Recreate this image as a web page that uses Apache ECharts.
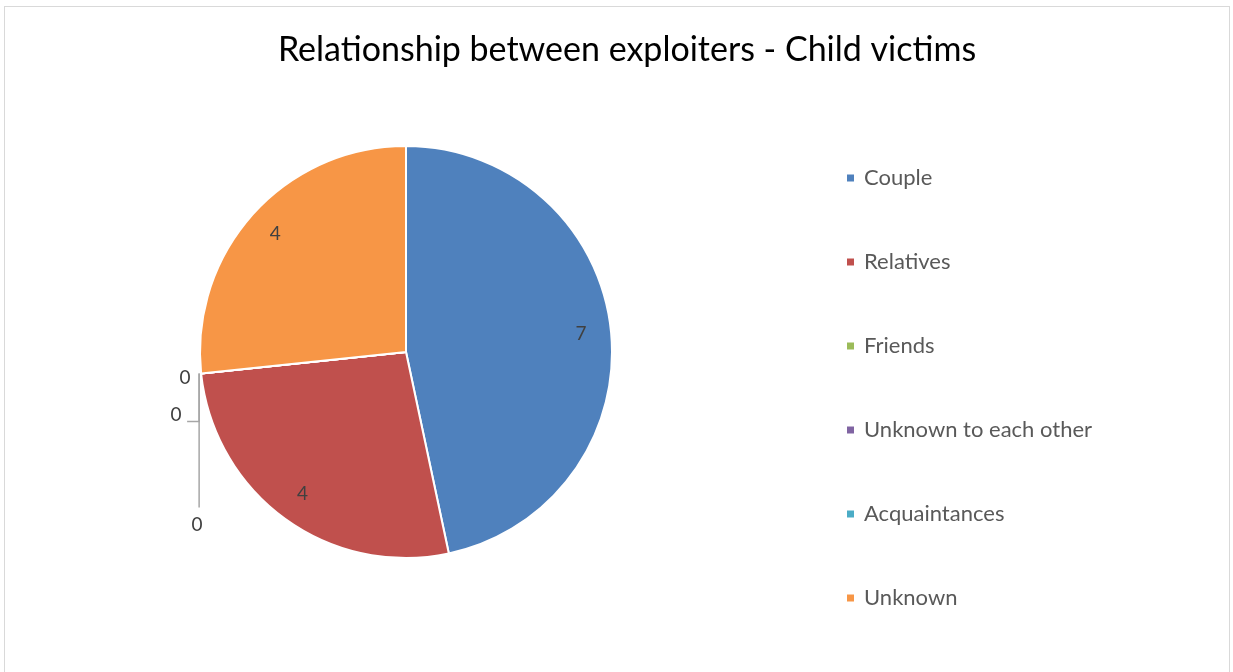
<!DOCTYPE html>
<html>
<head>
<meta charset="utf-8">
<title>Relationship between exploiters - Child victims</title>
<script src="https://cdn.jsdelivr.net/npm/echarts@6/dist/echarts.min.js"></script>
<style>
  html, body { margin: 0; padding: 0; background: #fff; }
  .frame {
    position: absolute; left: 4px; top: 6px; width: 1226px; height: 680px;
    border: 1px solid #d9d9d9; box-sizing: border-box;
  }
  #chart { position: absolute; left: 0; top: 0; width: 1233px; height: 672px; }
</style>
</head>
<body>
<div class="frame"></div>
<div id="chart"></div>
<script>
// chart data
const categories = ['Couple', 'Relatives', 'Friends', 'Unknown to each other', 'Acquaintances', 'Unknown'];
const values = [7, 4, 0, 0, 0, 4];
const colors = ['#4f81bd', '#c0504d', '#9bbb59', '#8064a2', '#4bacc6', '#f79646'];

const pieCenter = [406, 352];
const pieRadius = 206;

const chart = echarts.init(document.getElementById('chart'));

const seriesData = categories.map((name, i) => {
  const item = { name: name, value: values[i] };
  if (values[i] === 0) {
    item.label = { position: 'outside' };
  }
  return item;
});

// where the zero labels sit, relative to the slice edge point
const zeroLabels = {
  2: { lx: -16, ly: 4, line: null },
  3: { lx: -25, ly: 41, line: [[-2, 0], [-2, 48], [-14, 48]] },
  4: { lx: -4, ly: 151, line: [[-2, 0], [-2, 134]] }
};

const option = {
  animation: false,
  color: colors,
  title: {
    text: 'Relationship between exploiters - Child victims',
    left: 622,
    top: 28,
    textAlign: 'center',
    textStyle: { fontFamily: 'Lato', fontSize: 34, fontWeight: 'normal', color: '#000' }
  },
  legend: {
    orient: 'vertical',
    left: 840,
    top: 162,
    itemWidth: 9,
    itemHeight: 9,
    itemGap: 62,
    icon: 'rect',
    data: categories,
    textStyle: { fontFamily: 'Lato', fontSize: 22, color: '#595959', padding: [0, 0, 0, 4] }
  },
  series: [{
    type: 'pie',
    center: pieCenter,
    radius: pieRadius,
    startAngle: 90,
    clockwise: true,
    avoidLabelOverlap: false,
    itemStyle: { borderColor: '#fff', borderWidth: 2 },
    label: {
      show: true,
      position: 'inside',
      formatter: '{c}',
      fontFamily: 'Lato',
      fontSize: 19,
      color: '#404040'
    },
    labelLine: {
      show: true,
      length: 10,
      length2: 10,
      lineStyle: { color: '#a6a6a6', width: 1.5 }
    },
    labelLayout: (params) => {
      const i = params.dataIndex;
      const r = params.labelRect;
      if (values[i] !== 0) {
        // push the inside labels out toward the rim
        const cx = r.x + r.width / 2;
        const cy = r.y + r.height / 2;
        const k = 0.66;
        return { dx: (cx - pieCenter[0]) * k, dy: (cy - pieCenter[1]) * k };
      }
      const z = zeroLabels[i];
      const p0 = params.labelLinePoints ? params.labelLinePoints[0] : [r.x, r.y];
      const res = {
        x: p0[0] + z.lx,
        y: p0[1] + z.ly,
        align: 'center',
        verticalAlign: 'middle'
      };
      if (z.line) {
        res.labelLinePoints = z.line.map(q => [p0[0] + q[0], p0[1] + q[1]]);
      } else {
        res.labelLinePoints = [p0, p0, p0];
      }
      return res;
    },
    data: seriesData
  }]
};

chart.setOption(option);
</script>
</body>
</html>
